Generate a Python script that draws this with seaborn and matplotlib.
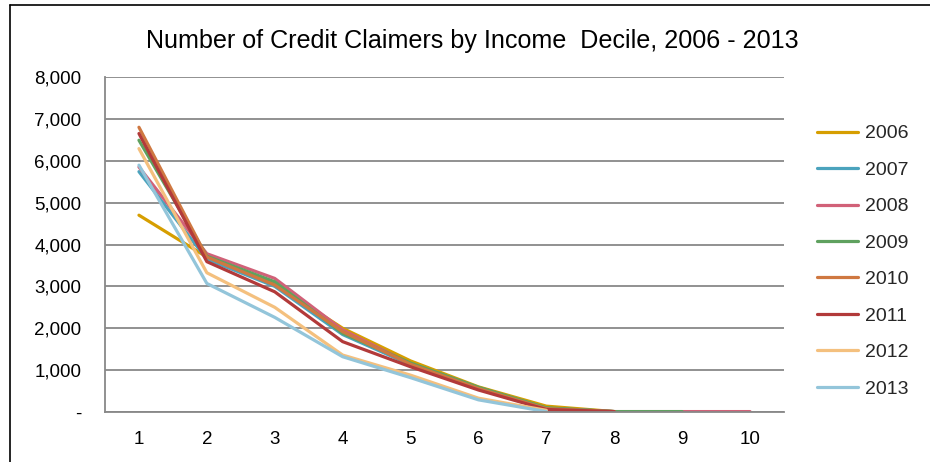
import numpy as np
import pandas as pd
import matplotlib
matplotlib.use("Agg")
import matplotlib.pyplot as plt
from matplotlib.lines import Line2D
from matplotlib.ticker import FuncFormatter, FixedLocator
import seaborn as sns

deciles = [1, 2, 3, 4, 5, 6, 7, 8, 9, 10]
years = ["2006", "2007", "2008", "2009", "2010", "2011", "2012", "2013"]
nan = np.nan
v2006 = [4700, 3700, 3050, 2000, 1220, 600, 140, 10, nan, nan]
v2007 = [5740, 3650, 3000, 1850, 1130, 560, 90, 10, nan, nan]
v2008 = [5850, 3780, 3190, 1960, 1150, 570, 80, 10, 10, 10]
v2009 = [6490, 3720, 3110, 1880, 1170, 590, 100, 10, 10, nan]
v2010 = [6800, 3700, 3030, 1920, 1140, 560, 80, 10, nan, nan]
v2011 = [6650, 3590, 2870, 1680, 1080, 525, 60, 10, nan, nan]
v2012 = [6290, 3325, 2500, 1360, 880, 330, 40, nan, nan, nan]
v2013 = [5895, 3070, 2260, 1320, 820, 290, 10, nan, nan, nan]
series = [v2006, v2007, v2008, v2009, v2010, v2011, v2012, v2013]
colors = ["#D69E00", "#4BA3BD", "#D16178", "#5FA15F", "#CF7841",
          "#B23A3A", "#F4C07E", "#93C5DA"]

rows = []
for y, vals in zip(years, series):
    for d, v in zip(deciles, vals):
        rows.append({"Decile": d, "Year": y, "Claimers": v})
df = pd.DataFrame(rows).dropna()

sns.set_theme(style="white")
plt.rcParams["font.family"] = ["Liberation Sans", "DejaVu Sans"]

fig = plt.figure(figsize=(9.3, 4.62), dpi=100)
ax = fig.add_axes([105 / 930, 1 - 412 / 462, (784 - 105) / 930, (412 - 77) / 462])

lw = 2.3
sns.lineplot(data=df, x="Decile", y="Claimers", hue="Year", hue_order=years,
             palette=colors, linewidth=lw, ax=ax, legend=False, sort=True)

ax.set_xlim(0.5, 10.5)
ax.set_ylim(0, 8000)
ax.set_xlabel("")
ax.set_ylabel("")
grid_c = "#888888"
ax.set_yticks(np.arange(0, 8001, 1000))
ax.yaxis.set_major_formatter(FuncFormatter(lambda v, p: "-" if v == 0 else f"{int(v):,}"))
ax.set_xticks(deciles)
ax.set_xticklabels([str(d) for d in deciles])
ax.xaxis.set_minor_locator(FixedLocator(np.arange(0.5, 11, 1)))
ax.tick_params(axis="x", which="major", length=0, labelsize=13.5, pad=14, colors="black")
ax.tick_params(axis="x", which="minor", length=6, width=1.3, color=grid_c, direction="out")
ax.tick_params(axis="y", which="major", length=6, width=1.3, color=grid_c, labelsize=13.5,
               pad=11, labelcolor="black", direction="out")
ax.grid(True, axis="y", color=grid_c, linewidth=1.3)
ax.set_axisbelow(True)
for s in ["top", "right"]:
    ax.spines[s].set_visible(False)
for s in ["left", "bottom"]:
    ax.spines[s].set_color(grid_c)
    ax.spines[s].set_linewidth(1.3)

fig.text(472 / 930, 1 - 41 / 462, "Number of Credit Claimers by Income  Decile, 2006 - 2013",
         ha="center", va="center", fontsize=18.1, color="black")

handles = [Line2D([0], [0], color=c, linewidth=lw) for c in colors]
fig.legend(handles, years, loc="upper left", bbox_to_anchor=(809 / 930, 1 - 117 / 462),
           frameon=False, fontsize=14, handlelength=2.1, handletextpad=0.36,
           labelspacing=0.97, borderaxespad=0)

fig.add_artist(Line2D([10 / 930, 10 / 930], [0, 1 - 5 / 462], transform=fig.transFigure,
                      color="black", linewidth=1.2))
fig.add_artist(Line2D([10 / 930, 1], [1 - 5 / 462, 1 - 5 / 462], transform=fig.transFigure,
                      color="black", linewidth=1.2))

fig.savefig("out.png", dpi=100)
